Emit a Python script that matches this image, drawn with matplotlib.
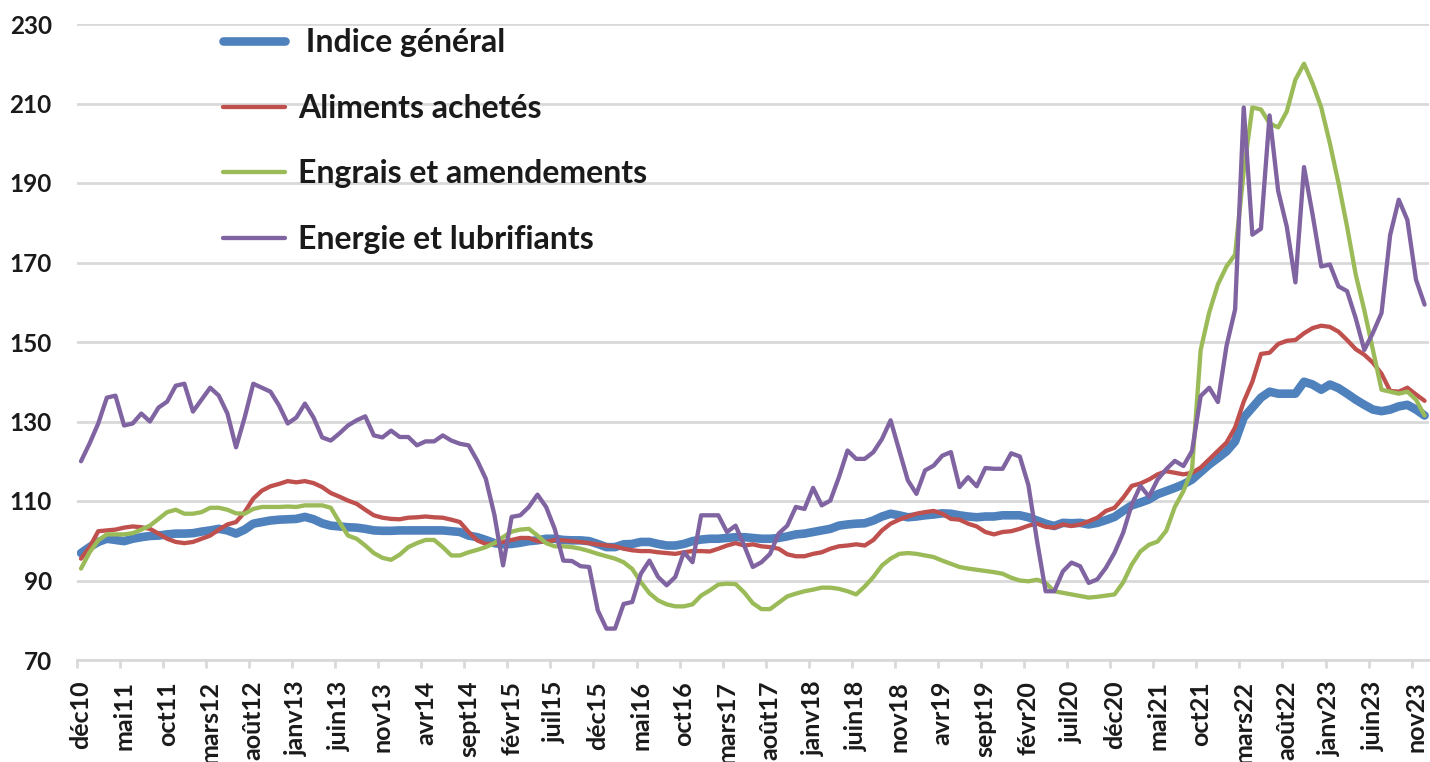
import matplotlib
matplotlib.use("Agg")
import matplotlib.pyplot as plt
import numpy as np

plt.rcParams['font.family'] = ['Lato', 'DejaVu Sans']

# monthly categories déc10 .. déc23
months = ["janv", "févr", "mars", "avr", "mai", "juin", "juil", "août", "sept", "oct", "nov", "déc"]
categories = ["déc10"] + [f"{m}{y:02d}" for y in range(11, 24) for m in months]

tick_labels = ["déc10", "mai11", "oct11", "mars12", "août12", "janv13", "juin13", "nov13",
               "avr14", "sept14", "févr15", "juil15", "déc15", "mai16", "oct16", "mars17",
               "août17", "janv18", "juin18", "nov18", "avr19", "sept19", "févr20", "juil20",
               "déc20", "mai21", "oct21", "mars22", "août22", "janv23", "juin23", "nov23"]

indice_general = [
    96.9, 98.4, 99.7, 100.5, 100.2, 99.9, 100.5, 100.9, 101.2, 101.3,
    101.6, 101.8, 101.8, 101.9, 102.3, 102.6, 103.0, 102.6, 101.8, 102.8,
    104.3, 104.7, 105.1, 105.3, 105.4, 105.5, 106.0, 105.4, 104.4, 103.8,
    103.6, 103.4, 103.3, 103.0, 102.6, 102.5, 102.5, 102.6, 102.6, 102.6,
    102.6, 102.6, 102.6, 102.4, 102.2, 101.3, 100.9, 100.2, 99.4, 99.1,
    99.2, 99.5, 99.9, 100.1, 100.5, 100.5, 100.2, 100.1, 100.1, 99.9,
    99.2, 98.4, 98.4, 99.1, 99.2, 99.7, 99.7, 99.2, 98.8, 98.8,
    99.2, 99.9, 100.3, 100.5, 100.5, 100.7, 100.9, 100.9, 100.7, 100.5,
    100.5, 100.7, 101.1, 101.6, 101.8, 102.2, 102.6, 103.0, 103.8, 104.1,
    104.3, 104.4, 105.1, 106.1, 106.8, 106.4, 105.9, 106.1, 106.4, 106.6,
    106.9, 106.8, 106.4, 106.1, 105.9, 106.1, 106.1, 106.4, 106.4, 106.4,
    105.9, 105.1, 104.3, 103.7, 104.5, 104.4, 104.5, 104.1, 104.5, 105.2,
    106.0, 107.5, 108.9, 109.6, 110.4, 111.7, 112.5, 113.3, 114.2, 115.4,
    117.3, 119.2, 120.8, 122.5, 125.0, 131.0, 133.5, 136.0, 137.5, 137.0,
    137.0, 137.0, 140.0, 139.3, 138.0, 139.3, 138.4, 137.0, 135.5, 134.2,
    133.0, 132.6, 133.0, 133.8, 134.2, 133.0, 131.5]

aliments_achetes = [
    95.5, 98.4, 102.4, 102.6, 102.8, 103.3, 103.6, 103.4, 103.0, 101.8,
    100.5, 99.7, 99.4, 99.7, 100.5, 101.3, 102.8, 104.1, 104.7, 107.2,
    110.6, 112.6, 113.7, 114.3, 115.0, 114.7, 115.0, 114.5, 113.5, 112.0,
    111.1, 110.1, 109.3, 107.8, 106.4, 105.8, 105.5, 105.4, 105.8, 105.9,
    106.1, 105.9, 105.8, 105.3, 104.7, 102.2, 100.1, 99.2, 99.2, 99.7,
    100.2, 100.7, 100.7, 99.9, 99.7, 100.2, 100.1, 99.9, 99.7, 99.4,
    99.1, 98.8, 98.6, 98.0, 97.6, 97.4, 97.4, 97.1, 96.9, 96.7,
    97.1, 97.4, 97.4, 97.3, 98.0, 98.8, 99.4, 98.8, 99.1, 98.6,
    98.4, 98.0, 96.6, 96.1, 96.1, 96.7, 97.1, 98.0, 98.6, 98.8,
    99.1, 98.8, 100.2, 102.6, 104.3, 105.3, 106.1, 106.8, 107.2, 107.5,
    106.8, 105.5, 105.3, 104.3, 103.6, 102.2, 101.6, 102.2, 102.4, 103.0,
    103.8, 104.3, 103.5, 103.3, 104.1, 103.7, 104.1, 104.9, 105.8, 107.5,
    108.3, 110.8, 113.8, 114.4, 115.4, 116.7, 117.5, 117.1, 116.7, 117.1,
    118.4, 120.5, 122.6, 124.7, 128.5, 135.0, 140.0, 147.0, 147.3, 149.5,
    150.3, 150.5, 152.2, 153.5, 154.1, 153.8, 152.6, 150.5, 148.2, 146.8,
    144.8, 142.0, 137.7, 137.5, 138.5, 136.8, 135.2]

engrais_amendements = [
    93.0, 97.1, 100.1, 101.6, 101.6, 101.6, 101.9, 102.8, 103.8, 105.5,
    107.2, 107.8, 106.8, 106.8, 107.2, 108.3, 108.3, 107.8, 106.9, 106.8,
    108.0, 108.5, 108.5, 108.5, 108.6, 108.5, 108.9, 108.9, 108.9, 108.3,
    104.7, 101.3, 100.5, 98.8, 96.9, 95.7, 95.2, 96.5, 98.4, 99.4,
    100.2, 100.2, 98.4, 96.3, 96.3, 97.1, 97.7, 98.4, 99.4, 100.9,
    102.3, 102.8, 103.0, 101.3, 99.4, 98.6, 98.6, 98.4, 98.0, 97.4,
    96.7, 96.1, 95.5, 94.6, 92.9, 89.6, 86.8, 85.0, 84.0, 83.5,
    83.5, 84.0, 86.2, 87.5, 89.0, 89.2, 89.1, 87.0, 84.3, 82.8,
    82.8, 84.4, 86.0, 86.7, 87.3, 87.7, 88.2, 88.2, 87.9, 87.3,
    86.5, 88.5, 90.9, 93.8, 95.5, 96.7, 96.9, 96.7, 96.3, 95.9,
    95.0, 94.2, 93.4, 93.0, 92.7, 92.4, 92.1, 91.7, 90.7, 90.0,
    89.8, 90.2, 89.4, 87.3, 86.9, 86.5, 86.1, 85.7, 85.9, 86.2,
    86.5, 89.5, 94.0, 97.3, 99.0, 99.8, 102.5, 108.5, 112.5, 118.0,
    148.0, 157.5, 164.5, 169.0, 172.0, 193.0, 209.0, 208.5, 205.0, 204.0,
    208.0, 216.0, 220.0, 215.0, 209.0, 200.0, 190.0, 179.0, 167.0, 158.0,
    148.0, 138.0, 137.5, 137.0, 137.5, 135.5, 131.5]

energie_lubrifiants = [
    120.0, 124.5, 129.5, 136.0, 136.5, 129.0, 129.5, 132.0, 130.0, 133.5,
    135.0, 139.0, 139.5, 132.5, 135.5, 138.5, 136.5, 132.0, 123.5, 131.0,
    139.5, 138.5, 137.5, 134.0, 129.5, 131.0, 134.5, 131.0, 126.0, 125.2,
    127.0, 129.0, 130.3, 131.3, 126.5, 126.0, 127.7, 126.1, 126.1, 124.0,
    125.0, 125.0, 126.5, 125.2, 124.4, 124.0, 120.2, 115.6, 106.5, 93.8,
    106.0, 106.4, 108.5, 111.6, 108.5, 103.0, 95.0, 94.9, 93.6, 93.4,
    82.5, 77.9, 77.9, 84.1, 84.6, 91.7, 95.0, 90.9, 88.8, 90.9,
    97.1, 94.6, 106.4, 106.4, 106.4, 102.2, 103.8, 98.8, 93.4, 94.6,
    96.7, 101.8, 103.8, 108.5, 108.0, 113.3, 108.9, 110.1, 116.0, 122.7,
    120.6, 120.6, 122.3, 125.6, 130.3, 122.7, 115.2, 111.8, 117.7, 118.9,
    121.4, 122.3, 113.5, 116.0, 113.7, 118.3, 118.1, 118.1, 122.0, 121.2,
    114.0, 100.0, 87.3, 87.3, 92.3, 94.5, 93.6, 89.4, 90.3, 93.2,
    97.0, 102.0, 109.1, 113.8, 111.1, 115.4, 118.0, 120.1, 118.8, 122.6,
    136.4, 138.5, 134.9, 149.0, 158.2, 209.0, 177.0, 178.5, 207.0, 188.0,
    179.0, 165.0, 194.0, 182.0, 169.0, 169.5, 164.0, 162.8, 156.0, 148.0,
    152.3, 157.3, 176.9, 185.8, 180.7, 165.7, 159.4]

series = [
    (" Indice général", indice_general, "#4F81BD", 6.2),
    ("Aliments achetés", aliments_achetes, "#C0504D", 3.1),
    ("Engrais et amendements", engrais_amendements, "#9BBB59", 3.1),
    ("Energie et lubrifiants", energie_lubrifiants, "#8064A2", 3.1),
]

W, H = 1430, 762
fig = plt.figure(figsize=(W / 100, H / 100), dpi=100)
ax = fig.add_axes([76.7 / W, 1 - 660 / H, (1428.9 - 76.7) / W, (660 - 24) / H])

x = np.arange(len(categories))
for label, vals, color, lw in series:
    ax.plot(x, vals, color=color, lw=lw, label=label, solid_joinstyle="round",
            solid_capstyle="round")

ax.set_xlim(-0.5, len(categories) - 0.5)
ax.set_ylim(70, 230)
ax.set_yticks(np.arange(70, 231, 20))
ax.yaxis.grid(True, color="#D9D9D9", lw=2)
ax.set_axisbelow(True)
for s in ["top", "right", "left"]:
    ax.spines[s].set_visible(False)
ax.spines["bottom"].set_color("#D9D9D9")
ax.spines["bottom"].set_linewidth(2)

label_pos = [categories.index(t) for t in tick_labels]
ax.set_xticks(label_pos)
ax.set_xticklabels(tick_labels, rotation=90, fontsize=18, fontweight="bold", color="#1a1a1a")
ax.set_xticks(np.array(label_pos) - 0.5, minor=True)
ax.tick_params(axis="x", which="major", length=0, pad=15)
ax.tick_params(axis="x", which="minor", length=6, width=2, color="#D9D9D9")
ax.tick_params(axis="y", length=0, pad=18, labelsize=17.5, labelcolor="#1a1a1a")
for t in ax.get_yticklabels():
    t.set_fontweight("bold")

leg = ax.legend(loc="upper left", bbox_to_anchor=(223 / W, 1 - 28 / H),
                bbox_transform=fig.transFigure, frameon=False, borderpad=0,
                borderaxespad=0, handlelength=1.95, handletextpad=0.4,
                labelspacing=1.15, prop={"family": "Lato", "weight": "bold", "size": 23})
for t in leg.get_texts():
    t.set_color("#1a1a1a")

fig.savefig("out.png", dpi=100)
